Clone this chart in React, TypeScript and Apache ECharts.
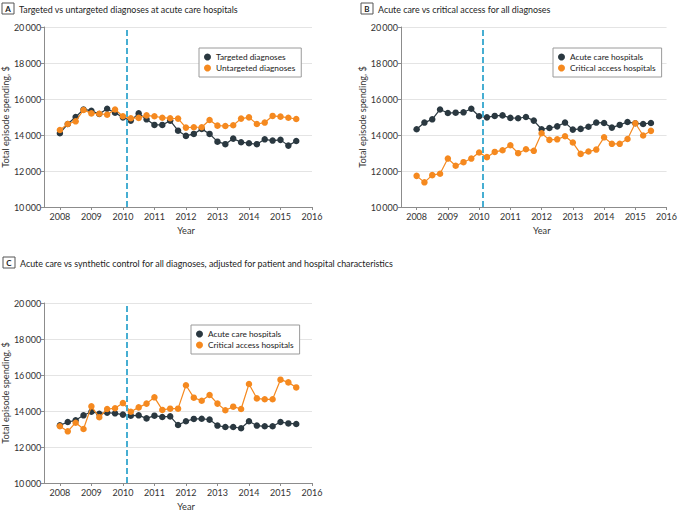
import React, { useEffect, useRef } from "react";
import * as echarts from "echarts";

const quarters = [
  2008, 2008.25, 2008.5, 2008.75, 2009, 2009.25, 2009.5, 2009.75,
  2010, 2010.25, 2010.5, 2010.75, 2011, 2011.25, 2011.5, 2011.75,
  2012, 2012.25, 2012.5, 2012.75, 2013, 2013.25, 2013.5, 2013.75,
  2014, 2014.25, 2014.5, 2014.75, 2015, 2015.25, 2015.5,
];

const targetedA = [
  14100, 14610, 15000, 15420, 15350, 15170, 15460, 15240,
  14980, 14800, 15200, 14870, 14560, 14560, 14800, 14240,
  13950, 14060, 14340, 14060, 13630, 13490, 13800, 13600,
  13540, 13490, 13760, 13690, 13730, 13410, 13670,
];
const untargetedA = [
  14280, 14610, 14760, 15390, 15200, 15180, 15130, 15420,
  15040, 14930, 14950, 15090, 15040, 14960, 14930, 14910,
  14410, 14430, 14430, 14830, 14520, 14500, 14540, 14910,
  14980, 14610, 14690, 15060, 15020, 14960, 14890,
];

const acuteB = [
  14320, 14690, 14870, 15420, 15220, 15240, 15260, 15460,
  15040, 14980, 15060, 15090, 14950, 14930, 15000, 14800,
  14320, 14390, 14480, 14690, 14300, 14340, 14460, 14690,
  14670, 14410, 14560, 14720, 14650, 14610, 14670,
];
const criticalB = [
  11730, 11370, 11770, 11850, 12690, 12290, 12490, 12690,
  13030, 12770, 13060, 13150, 13430, 12990, 13210, 13120,
  14100, 13730, 13760, 13930, 13580, 12950, 13080, 13190,
  13870, 13510, 13510, 13780, 14650, 13970, 14230,
];

const acuteC = [
  13200, 13390, 13480, 13760, 13960, 13850, 13910, 13870,
  13800, 13740, 13760, 13590, 13740, 13670, 13700, 13220,
  13430, 13560, 13570, 13520, 13190, 13110, 13110, 13040,
  13430, 13190, 13150, 13150, 13390, 13310, 13280,
];
const criticalC = [
  13150, 12870, 13350, 13000, 14260, 13650, 14110, 14150,
  14440, 13960, 14200, 14410, 14760, 14060, 14130, 14130,
  15430, 14740, 14570, 14890, 14410, 14040, 14240, 14110,
  15500, 14700, 14650, 14650, 15740, 15590, 15310,
];

const yearTicks = [2008, 2009, 2010, 2011, 2012, 2013, 2014, 2015, 2016];
const policyYear = 2010.12;

const titles = [
  { letter: "A", text: "Targeted vs untargeted diagnoses at acute care hospitals" },
  { letter: "B", text: "Acute care vs critical access for all diagnoses" },
  { letter: "C", text: "Acute care vs synthetic control for all diagnoses, adjusted for patient and hospital characteristics" },
];
const legendNamesA = ["Targeted diagnoses", "Untargeted diagnoses"];
const legendNamesBC = ["Acute care hospitals", "Critical access hospitals"];

const DARK = "#2a3840";
const ORANGE = "#f5891f";
const DASH = "#46aed2";
const FONT = "Lato";
const AXIS_GRAY = "#8c8c8c";

const panels = [
  { grid: { left: 44, top: 27, width: 268, height: 180 }, nameGap: 31, title: { x: 2, y: 3 }, legend: { left: 199, top: 48 }, names: legendNamesA, dark: targetedA, orange: untargetedA },
  { grid: { left: 401, top: 27, width: 268, height: 180 }, nameGap: 32, title: { x: 361, y: 3 }, legend: { left: 553, top: 48 }, names: legendNamesBC, dark: acuteB, orange: criticalB },
  { grid: { left: 44, top: 303, width: 268, height: 180 }, nameGap: 31, title: { x: 3, y: 257 }, legend: { left: 191, top: 325 }, names: legendNamesBC, dark: acuteC, orange: criticalC },
];

function fmtThousands(v: number) {
  const s = String(v);
  return s.slice(0, s.length - 3) + "\u2009" + s.slice(s.length - 3);
}

export default function App() {
  const ref = useRef<HTMLDivElement>(null);
  useEffect(() => {
    if (!ref.current) return;
    const chart = echarts.init(ref.current, undefined, { renderer: "svg" });

    const grid = panels.map((p) => p.grid);
    const xAxis = panels.map((p, i) => ({
      type: "value",
      gridIndex: i,
      min: 2007.5,
      max: 2016,
      splitLine: { show: false },
      axisLine: { show: true, lineStyle: { color: AXIS_GRAY, width: 1 } },
      axisTick: { show: true, length: 3, customValues: yearTicks, lineStyle: { color: AXIS_GRAY } },
      axisLabel: { customValues: yearTicks, fontSize: 9, color: "#333", margin: 5, fontFamily: FONT, formatter: (v: number) => String(v) },
      name: "Year",
      nameLocation: "middle",
      nameGap: 19,
      nameTextStyle: { fontSize: 9.2, color: "#333", fontFamily: FONT, padding: [0, 0, 0, 16] },
    }));
    const yAxis = panels.map((p, i) => ({
      type: "value",
      gridIndex: i,
      min: 10000,
      max: 20000,
      interval: 2000,
      axisLine: { show: true, lineStyle: { color: AXIS_GRAY, width: 1 } },
      axisTick: { show: true, length: 3, lineStyle: { color: AXIS_GRAY } },
      splitLine: { show: true, lineStyle: { color: "#e4e4e4", width: 1 } },
      axisLabel: { fontSize: 9, color: "#333", margin: 3, fontFamily: FONT, formatter: (v: number) => fmtThousands(v) },
      name: "Total episode spending, $",
      nameLocation: "middle",
      nameGap: p.nameGap,
      nameTextStyle: { fontSize: 9.2, color: "#333", fontFamily: FONT },
    }));

    const series: any[] = [];
    panels.forEach((p, i) => {
      series.push({
        type: "line",
        name: p.names[0],
        xAxisIndex: i,
        yAxisIndex: i,
        data: quarters.map((q, k) => [q, p.dark[k]]),
        symbol: "circle",
        symbolSize: 6.5,
        itemStyle: { color: DARK },
        lineStyle: { color: DARK, width: 1.2 },
        z: 2,
        markLine: {
          silent: true,
          symbol: ["none", "none"],
          label: { show: false },
          lineStyle: { color: DASH, type: [6, 3], width: 2 },
          data: [{ xAxis: policyYear }],
        },
      });
      series.push({
        type: "line",
        name: p.names[1],
        xAxisIndex: i,
        yAxisIndex: i,
        data: quarters.map((q, k) => [q, p.orange[k]]),
        symbol: "circle",
        symbolSize: 6.5,
        itemStyle: { color: ORANGE },
        lineStyle: { color: ORANGE, width: 1.2 },
        z: 3,
      });
    });

    const legend = panels.map((p) => ({
      data: p.names,
      orient: "vertical",
      left: p.legend.left,
      top: p.legend.top,
      icon: "circle",
      itemWidth: 7,
      itemHeight: 7,
      itemGap: 1,
      padding: [4, 6, 4, 5],
      borderColor: "#9a9a9a",
      borderWidth: 1,
      backgroundColor: "#fff",
      selectedMode: false,
      textStyle: { fontSize: 8.3, color: "#222", fontFamily: FONT, lineHeight: 10 },
    }));

    const graphic: any[] = [];
    panels.forEach((p, i) => {
      graphic.push({
        type: "rect",
        shape: { x: p.title.x, y: p.title.y, width: 12, height: 11 },
        style: { fill: "#fff", stroke: "#555", lineWidth: 1 },
      });
      graphic.push({
        type: "text",
        x: p.title.x + 6,
        y: p.title.y + 6,
        style: { text: titles[i].letter, fontFamily: FONT, fontWeight: "bold", fontSize: 8, fill: "#222", textAlign: "center", textVerticalAlign: "middle" },
      });
      graphic.push({
        type: "text",
        x: p.title.x + 17,
        y: p.title.y + 6,
        style: { text: titles[i].text, fontFamily: FONT, fontSize: 8.9, fill: "#222", textAlign: "left", textVerticalAlign: "middle" },
      });
    });

    chart.setOption({
      animation: false,
      backgroundColor: "#fff",
      grid,
      xAxis,
      yAxis,
      series,
      legend,
      graphic,
    });
    return () => chart.dispose();
  }, []);
  return <div ref={ref} style={{ position: "fixed", left: 0, top: 0, width: 680, height: 513 }} />;
}
